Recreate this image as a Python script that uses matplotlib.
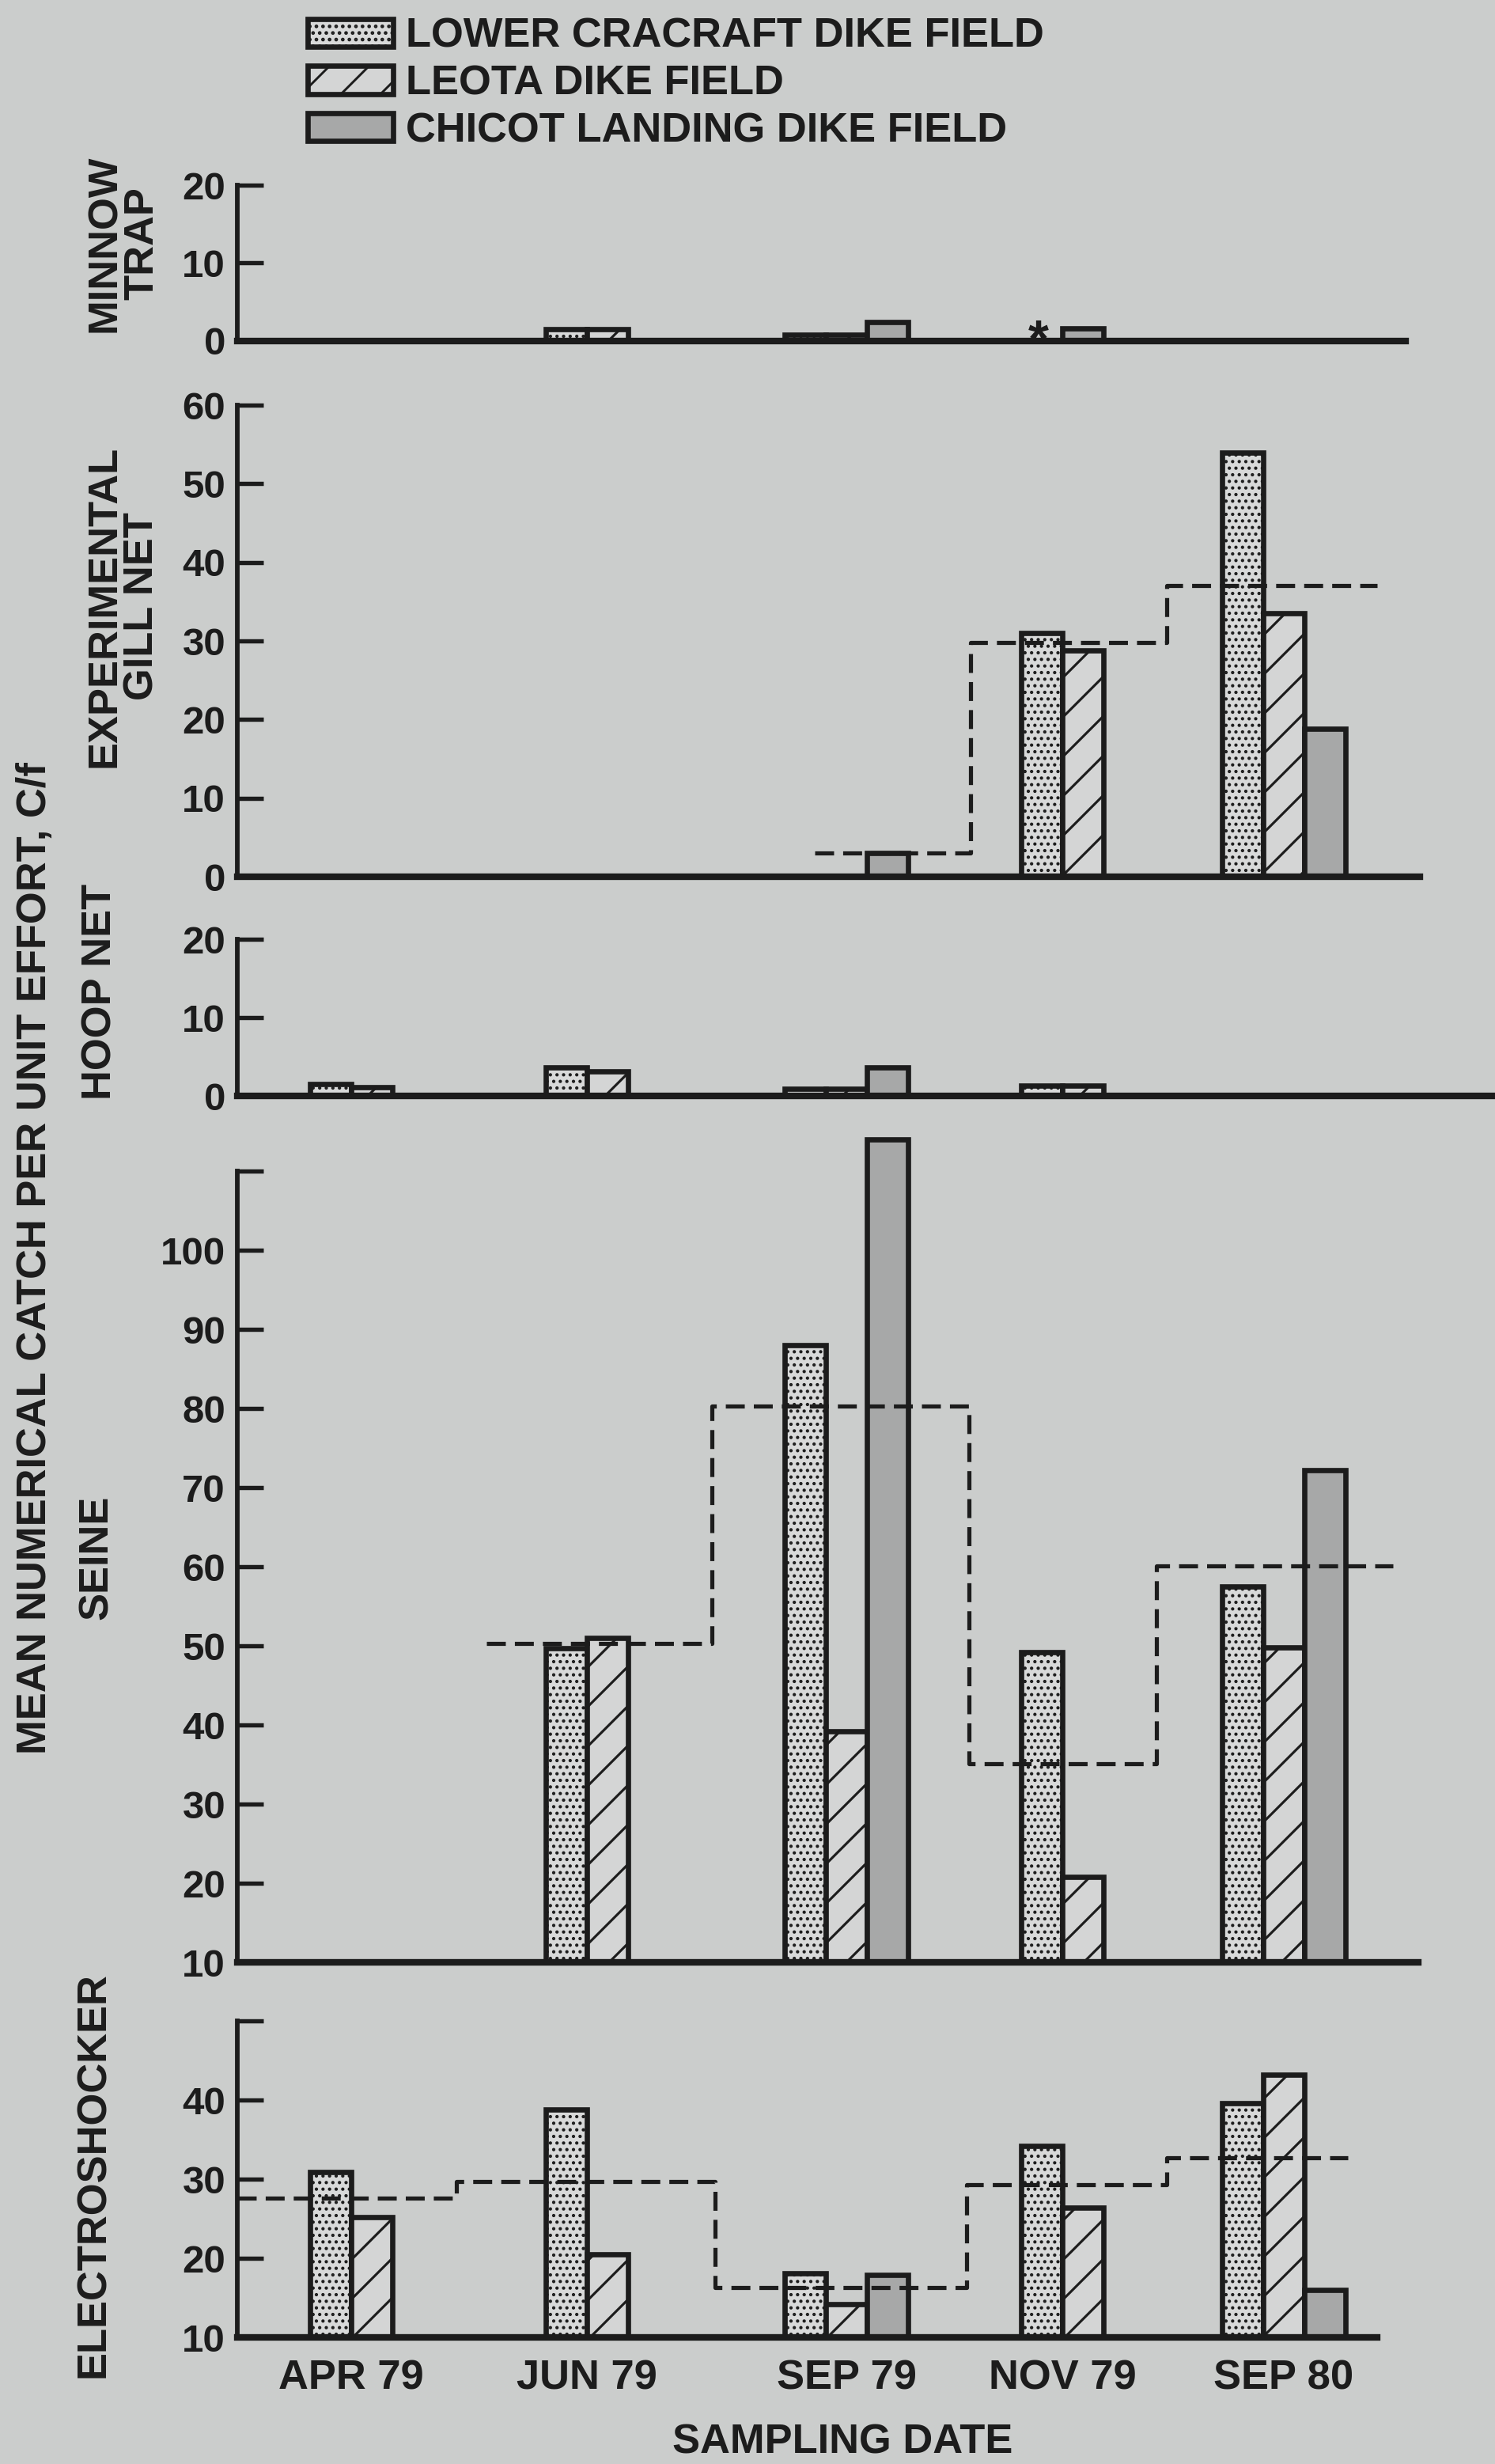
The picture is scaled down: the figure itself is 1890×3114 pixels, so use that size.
import numpy as np
import matplotlib
matplotlib.use("Agg")
import matplotlib.pyplot as plt

nan = np.nan

# ---------------- data ----------------
dates = ["APR 79", "JUN 79", "SEP 79", "NOV 79", "SEP 80"]
fields = ["LOWER CRACRAFT DIKE FIELD", "LEOTA DIKE FIELD", "CHICOT LANDING DIKE FIELD"]

# nan = not sampled (no slot); 0.0 = sampled, nothing drawn (slot kept)
minnow_lc = [nan, 1.5, 0.8, 0.0, nan]
minnow_leota = [nan, 1.5, 0.8, nan, nan]
minnow_chicot = [nan, nan, 2.4, 1.6, nan]
minnow_trace = ["", "", "", "*", ""]          # trace marker for Lower Cracraft

gill_lc = [nan, nan, 0.0, 31.0, 54.0]
gill_leota = [nan, nan, 0.0, 28.8, 33.5]
gill_chicot = [nan, nan, 3.0, nan, 18.8]
gill_mean = [nan, nan, 3.0, 29.8, 37.0]

hoop_lc = [1.5, 3.6, 0.9, 1.3, nan]
hoop_leota = [1.1, 3.1, 0.9, 1.3, nan]
hoop_chicot = [nan, nan, 3.6, nan, nan]

seine_lc = [nan, 49.7, 88.0, 49.2, 57.5]
seine_leota = [nan, 51.0, 39.2, 20.8, 49.8]
seine_chicot = [nan, nan, 114.0, nan, 72.2]
seine_mean = [nan, 50.3, 80.3, 35.1, 60.1]

electro_lc = [30.9, 38.8, 18.1, 34.2, 39.6]
electro_leota = [25.2, 20.5, 14.2, 26.4, 43.2]
electro_chicot = [nan, nan, 17.9, nan, 16.0]
electro_mean = [27.6, 29.7, 16.3, 29.3, 32.7]

# ---------------- layout / style ----------------
W, H, DPI = 1890, 3114, 300
BG = "#cbcdcc"
INK = "#1c1c1c"
group_x = [0.92, 3.90, 6.92, 9.91, 12.45]     # left edge of first bar (x unit = 100 px)
bar_w = 0.52
AX_X0 = 300

plt.rcParams["font.family"] = ["Liberation Sans", "DejaVu Sans"]
plt.rcParams["font.weight"] = "bold"
plt.rcParams["hatch.linewidth"] = 0.7
plt.rcParams["text.color"] = INK

fig = plt.figure(figsize=(W / DPI, H / DPI), dpi=DPI, facecolor=BG)

FS = 12.6

styles = [
    dict(facecolor="#d8d9d9", hatch="......", edgecolor=INK),
    dict(facecolor="#d4d5d5", hatch="//", edgecolor=INK),
    dict(facecolor="#a7a8a8", hatch=None, edgecolor=INK),
]


def px_axes(ytop, y0, x1):
    ax = fig.add_axes([AX_X0 / W, 1 - y0 / H, (x1 - AX_X0) / W, (y0 - ytop) / H])
    ax.set_facecolor("none")
    ax.set_xlim(0, (x1 - AX_X0) / 100)
    for s in ("top", "right"):
        ax.spines[s].set_visible(False)
    ax.spines["left"].set_linewidth(1.4)
    ax.spines["bottom"].set_linewidth(2.0)
    ax.spines["left"].set_color(INK)
    ax.spines["bottom"].set_color(INK)
    ax.tick_params(axis="y", direction="in", length=8, width=1.3, pad=3.6,
                   labelsize=11.8, colors=INK)
    ax.tick_params(axis="x", length=0, labelbottom=False)
    return ax


def draw_bars(ax, series, base):
    containers = []
    for s, vals in enumerate(series):
        xs, hs = [], []
        for g in range(len(dates)):
            if np.isnan(vals[g]):
                continue
            k = sum(0 if np.isnan(series[t][g]) else 1 for t in range(s))
            if vals[g] > 0:
                xs.append(group_x[g] + k * bar_w)
                hs.append(vals[g] - base)
        with plt.rc_context({"hatch.linewidth": 0.75 if s == 1 else 0.6}):
            c = ax.bar(xs, hs, width=bar_w, bottom=base, align="edge",
                       linewidth=1.6, clip_on=False, zorder=2, **styles[s])
        containers.append(c)
    return containers


def draw_mean(ax, means, edges):
    lv = [m for m in means if not np.isnan(m)]
    xs, ys = [], []
    for i, m in enumerate(lv):
        xs += [edges[i], edges[i + 1]]
        ys += [m, m]
    ax.plot(xs, ys, color=INK, lw=1.25, ls=(0, (4.6, 2.2)), zorder=3, clip_on=False)


# Minnow trap
ax1 = px_axes(234, 431, 1777)
ax1.set_ylim(0, 20)
ax1.set_yticks([0, 10, 20])
draw_bars(ax1, [minnow_lc, minnow_leota, minnow_chicot], 0)
for g, t in enumerate(minnow_trace):
    if t:
        ax1.annotate(t, xy=(group_x[g] + bar_w / 2, 0), xytext=(-1, -4.6),
                     textcoords="offset points", ha="center", va="baseline",
                     fontsize=16, annotation_clip=False)

# Experimental gill net
ax2 = px_axes(512, 1108, 1795)
ax2.set_ylim(0, 60)
ax2.set_yticks(range(0, 61, 10))
draw_bars(ax2, [gill_lc, gill_leota, gill_chicot], 0)
draw_mean(ax2, gill_mean, [7.30, 9.27, 11.75, 14.41])

# Hoop net
ax3 = px_axes(1187, 1385, 1890)
ax3.set_ylim(0, 20)
ax3.set_yticks([0, 10, 20])
draw_bars(ax3, [hoop_lc, hoop_leota, hoop_chicot], 0)

# Seine
ax4 = px_axes(1480, 2480, 1793)
ax4.set_ylim(10, 110)
ax4.set_yticks(range(10, 111, 10))
ax4.set_yticklabels([str(v) for v in range(10, 101, 10)] + [""])
draw_bars(ax4, [seine_lc, seine_leota, seine_chicot], 10)
draw_mean(ax4, seine_mean, [3.15, 6.0, 9.25, 11.62, 14.61])

# Electroshocker
ax5 = px_axes(2554, 2954, 1741)
ax5.set_ylim(10, 50)
ax5.set_yticks(range(10, 51, 10))
ax5.set_yticklabels([str(v) for v in range(10, 41, 10)] + [""])
eseries = [electro_lc, electro_leota, electro_chicot]
econt = draw_bars(ax5, eseries, 10)
draw_mean(ax5, electro_mean, [0, 2.77, 6.04, 9.22, 11.75, 14.04])
centers = []
for g in range(len(dates)):
    n = sum(0 if np.isnan(eseries[s][g]) else 1 for s in range(3))
    centers.append(group_x[g] + n * bar_w / 2)
ax5.set_xticks(centers)
ax5.set_xticklabels(dates, fontsize=FS)
ax5.tick_params(axis="x", labelbottom=True, length=0, pad=6.5, colors=INK)

# Legend
fig.legend(handles=econt, labels=fields, loc="upper left",
           bbox_to_anchor=(389 / W, 1 - 22 / H), frameon=False, fontsize=FS,
           handlelength=2.05, handleheight=0.66, handletextpad=0.32,
           labelspacing=0.2, borderpad=0, borderaxespad=0)

# Axis titles
def ftext(x, y, s, **kw):
    fig.text(x / W, 1 - y / H, s, ha="center", va="center", rotation=90,
             fontsize=FS, multialignment="center", **kw)

ftext(156, 308, "MINNOW\nTRAP", linespacing=0.95)
ftext(156, 766, "EXPERIMENTAL\nGILL NET", linespacing=0.95)
ftext(127, 1253, "HOOP NET")
ftext(122, 1968, "SEINE")
ftext(118, 2749, "ELECTROSHOCKER")
ftext(45, 1590, "MEAN NUMERICAL CATCH PER UNIT EFFORT, C/f")
fig.text(1065 / W, 1 - 3087 / H, "SAMPLING DATE", ha="center", va="center", fontsize=FS)

fig.savefig("out.png", dpi=DPI, facecolor=BG)
